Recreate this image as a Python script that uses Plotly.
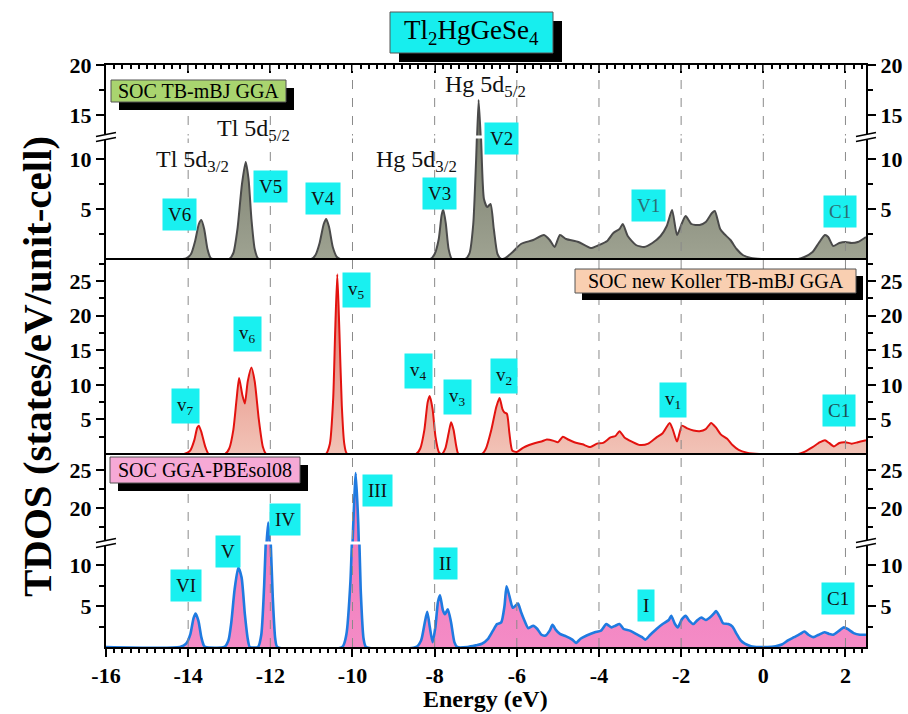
import plotly.graph_objects as go

# ---------------- data ----------------
# Panel 1: SOC TB-mBJ GGA
E_TB = [-16.0, -14.15, -14.05, -13.93, -13.83, -13.74, -13.68, -13.61, -13.53, -13.46, -13.4,
        -13.0, -12.9, -12.8, -12.69, -12.6, -12.53, -12.46, -12.38, -12.3, -12.25,
        -11.0, -10.9, -10.8, -10.7, -10.64, -10.57, -10.48, -10.38, -10.3,
        -8.1, -8.0, -7.9, -7.83, -7.79, -7.73, -7.66, -7.58,
        -7.25, -7.15, -7.06, -6.99, -6.93, -6.87, -6.8, -6.72, -6.64, -6.56, -6.47, -6.38,
        -6.3, -6.1, -5.9, -5.6, -5.34, -5.2, -5.08, -4.95, -4.8, -4.5, -4.2, -4.0, -3.8,
        -3.65, -3.5, -3.42, -3.3, -3.1, -2.9, -2.7, -2.5, -2.35, -2.22, -2.1, -1.98, -1.89,
        -1.75, -1.55, -1.4, -1.25, -1.18, -1.05, -0.95, -0.8, -0.65, -0.5, -0.3, -0.05,
        0.85, 1.0, 1.2, 1.35, 1.5, 1.58, 1.7, 1.85, 2.0, 2.15, 2.3, 2.5]
D_TB = [0, 0, 0.05, 0.5, 1.8, 3.5, 3.9, 3.0, 1.0, 0.15, 0,
        0, 0.6, 3.0, 7.5, 9.7, 8.0, 4.0, 1.0, 0.05, 0,
        0, 0.4, 1.6, 3.5, 4.0, 3.2, 1.2, 0.2, 0,
        0, 0.5, 2.0, 4.4, 4.95, 3.6, 1.0, 0,
        0, 0.6, 3.5, 10.0, 16.5, 12.0, 6.0, 5.2, 5.5, 3.0, 0.5, 0,
        0.05, 0.7, 1.5, 1.9, 2.4, 1.9, 1.2, 2.4, 2.0, 1.7, 1.1, 1.4, 1.8,
        2.6, 3.0, 3.5, 2.3, 1.4, 1.2, 1.6, 2.3, 3.3, 4.9, 2.4, 3.6, 4.3,
        3.5, 3.4, 3.7, 4.6, 4.8, 3.0, 2.5, 1.9, 1.0, 0.4, 0.1, 0,
        0, 0.2, 0.7, 1.6, 2.4, 2.2, 1.3, 1.6, 1.7, 1.6, 1.7, 2.2]

# Panel 2: SOC new Koller TB-mBJ GGA
E_NK = [-16.0, -14.1, -13.95, -13.85, -13.78, -13.74, -13.68, -13.58, -13.5,
        -13.1, -13.0, -12.9, -12.82, -12.76, -12.68, -12.62, -12.55, -12.46, -12.38, -12.28, -12.18, -12.1,
        -10.65, -10.55, -10.47, -10.42, -10.37, -10.32, -10.26, -10.2, -10.13,
        -8.45, -8.35, -8.25, -8.17, -8.12, -8.05, -7.98, -7.9, -7.85,
        -7.82, -7.74, -7.66, -7.6, -7.54, -7.47, -7.42,
        -6.85, -6.75, -6.62, -6.5, -6.42, -6.35, -6.3, -6.24, -6.18, -6.11,
        -6.0, -5.85, -5.7, -5.55, -5.4, -5.27, -5.1, -5.0, -4.88, -4.75, -4.6, -4.4, -4.21,
        -4.05, -3.9, -3.72, -3.6, -3.5, -3.38, -3.2, -3.0, -2.8, -2.6, -2.45, -2.28, -2.2,
        -2.1, -1.98, -1.85, -1.7, -1.55, -1.4, -1.27, -1.15, -1.03, -0.88, -0.75, -0.6, -0.4, -0.1,
        0.85, 1.0, 1.2, 1.38, 1.5, 1.6, 1.72, 1.85, 2.0, 2.15, 2.3, 2.5]
D_NK = [0, 0, 0.5, 2.0, 3.8, 4.1, 3.2, 1.0, 0,
        0, 0.8, 3.5, 8.0, 11.0, 8.5, 7.3, 10.5, 12.5, 10.5, 5.0, 1.0, 0,
        0, 1.5, 8.0, 18.0, 26.0, 18.0, 7.0, 1.5, 0,
        0, 0.8, 3.5, 7.5, 8.4, 6.5, 2.5, 0.3, 0,
        0, 0.8, 3.0, 4.6, 3.5, 1.0, 0,
        0, 0.8, 3.5, 6.8, 8.1, 6.5, 6.0, 5.8, 3.0, 0.5,
        0.3, 0.9, 1.3, 1.6, 1.8, 2.1, 1.9, 1.7, 2.5, 2.1, 1.7, 1.4, 1.0,
        1.5, 1.6, 2.4, 2.6, 3.3, 2.4, 1.8, 1.3, 1.5, 2.4, 3.0, 4.5, 3.5,
        1.8, 4.1, 3.7, 3.4, 3.3, 3.6, 4.5, 3.8, 2.8, 2.2, 1.3, 0.6, 0.2, 0,
        0, 0.3, 1.0, 1.7, 2.0, 1.6, 1.1, 1.6, 1.7, 1.5, 1.7, 2.0]

# Panel 3: SOC GGA-PBEsol08
E_PB = [-16.0, -14.2, -14.05, -13.95, -13.87, -13.82, -13.75, -13.68, -13.62, -13.58,
        -13.12, -13.02, -12.95, -12.87, -12.78, -12.7, -12.62, -12.55, -12.5,
        -12.3, -12.22, -12.15, -12.09, -12.05, -12.0, -11.94, -11.88, -11.83,
        -10.25, -10.15, -10.05, -9.98, -9.92, -9.86, -9.8, -9.73, -9.67,
        -8.45, -8.33, -8.24, -8.18, -8.12, -8.05, -7.98, -7.92, -7.87, -7.8, -7.75, -7.68, -7.6, -7.52, -7.45,
        -7.2, -7.0, -6.85, -6.7, -6.58, -6.48, -6.38, -6.3, -6.25, -6.18, -6.1, -6.04, -5.97, -5.9,
        -5.82, -5.72, -5.6, -5.5, -5.4, -5.3, -5.2, -5.13, -5.05, -4.95, -4.8, -4.65, -4.56, -4.45,
        -4.3, -4.1, -3.95, -3.82, -3.7, -3.6, -3.5, -3.4, -3.25, -3.1, -2.95, -2.87, -2.75, -2.6,
        -2.45, -2.3, -2.24, -2.15, -2.08, -1.98, -1.89, -1.8, -1.7, -1.6, -1.51, -1.4, -1.3, -1.2,
        -1.15, -1.05, -0.98, -0.85, -0.75, -0.65, -0.55, -0.45, -0.3, -0.1, 0.1, 0.3, 0.45, 0.6,
        0.75, 0.9, 1.0, 1.1, 1.22, 1.35, 1.49, 1.6, 1.7, 1.85, 1.96, 2.05, 2.2, 2.35, 2.5]
D_PB = [0, 0, 0.4, 1.5, 3.5, 4.1, 3.2, 1.2, 0.2, 0,
        0, 0.8, 3.0, 7.0, 9.7, 8.5, 4.0, 1.0, 0,
        0, 1.5, 7.5, 15.5, 18.1, 14.0, 6.0, 1.0, 0,
        0, 1.5, 8.0, 18.0, 24.6, 18.0, 7.0, 1.0, 0,
        0, 0.8, 3.0, 4.3, 2.5, 0.6, 2.5, 5.5, 6.3, 4.5, 4.0, 4.6, 3.0, 0.6, 0,
        0, 0.2, 0.4, 1.0, 2.0, 2.8, 3.0, 5.0, 7.4, 6.2, 4.8, 5.0, 5.3, 4.3,
        3.3, 2.3, 2.6, 2.2, 1.5, 1.4, 2.0, 2.7, 2.1, 1.6, 1.3, 0.9, 0.5, 1.0,
        1.4, 1.8, 2.0, 2.8, 2.4, 2.6, 2.8, 2.2, 2.0, 1.6, 1.2, 0.9, 1.5, 2.2,
        2.8, 3.3, 3.8, 2.8, 2.4, 3.4, 3.8, 3.2, 2.8, 3.3, 3.6, 3.3, 3.6, 4.1,
        4.4, 3.6, 2.9, 2.8, 2.5, 1.6, 0.8, 0.4, 0.1, 0.0, 0, 0.1, 0.3, 0.8,
        1.2, 1.6, 1.9, 1.5, 1.2, 1.5, 1.8, 1.6, 1.5, 2.0, 2.4, 2.2, 1.7, 1.5, 1.5]

X_TICKS = [-16, -14, -12, -10, -8, -6, -4, -2, 0, 2]
X_TICK_TEXT = ["-16", "-14", "-12", "-10", "-8", "-6", "-4", "-2", "0", "2"]
GRID_X = [-14, -12, -10, -8, -6, -4, -2, 0, 2]

# ---------------- layout helpers ----------------
FIG_W, FIG_H = 908, 714
ML, MR, MT, MB = 106, 42, 65, 67
PW, PH = FIG_W - ML - MR, FIG_H - MT - MB


def px(x):
    return (x - ML) / PW


def py(y):
    return (MT + PH - y) / PH


SERIF = "Liberation Serif"
BREAK_TOP, BREAK_BOT = 137, 543
D_BL = [0, py(BREAK_BOT)]
D_BU = [py(BREAK_BOT), py(454)]
D_M = [py(454), py(259)]
D_TL = [py(259), py(BREAK_TOP)]
D_TU = [py(BREAK_TOP), 1]

fig = go.Figure()

tb_grad = dict(type="vertical", colorscale=[[0, "#9fa392"], [1, "#6f7363"]])
nk_grad = dict(type="vertical", colorscale=[[0, "#f2c4b8"], [1, "#e07468"]])
pb_grad = dict(type="vertical", colorscale=[[0, "#f48cc6"], [1, "#ee6fb4"]])

TB_LINE = dict(color="#4a4a4a", width=2, shape="spline", smoothing=0.6)
NK_LINE = dict(color="#e3120f", width=2, shape="spline", smoothing=0.6)
PB_LINE = dict(color="#1f7ae0", width=2.6, shape="spline", smoothing=0.6)

for ya in ["y4", "y5"]:
    fig.add_trace(go.Scatter(x=E_TB, y=D_TB, yaxis=ya, mode="lines", line=TB_LINE,
                             fill="tozeroy", fillgradient=tb_grad, showlegend=False,
                             hoverinfo="skip"))
fig.add_trace(go.Scatter(x=E_NK, y=D_NK, yaxis="y3", mode="lines", line=NK_LINE,
                         fill="tozeroy", fillgradient=nk_grad, showlegend=False, hoverinfo="skip"))
for ya in ["y", "y2"]:
    fig.add_trace(go.Scatter(x=E_PB, y=D_PB, yaxis=ya, mode="lines", line=PB_LINE,
                             fill="tozeroy", fillgradient=pb_grad, showlegend=False,
                             hoverinfo="skip"))

# invisible copies so that the mirrored (right / top) axes get drawn
for xa, ya, ex, dy in [("x", "y6", E_PB, D_PB), ("x", "y7", E_PB, D_PB), ("x", "y8", E_NK, D_NK),
                       ("x", "y9", E_TB, D_TB), ("x", "y10", E_TB, D_TB), ("x2", "y5", E_TB, D_TB)]:
    fig.add_trace(go.Scatter(x=ex, y=dy, xaxis=xa, yaxis=ya, mode="lines", opacity=0,
                             line=dict(width=1), showlegend=False, hoverinfo="skip"))

tickfont = dict(family=SERIF, size=22, color="black", weight="bold")


def yax(domain, rng, major, minor, side="left", overlay=None):
    d = dict(range=rng, tickmode="array", tickvals=major, ticks="outside",
             ticklen=8, tickwidth=2, tickcolor="black", showline=True, linewidth=2,
             linecolor="black", showgrid=False, zeroline=False, tickfont=tickfont,
             minor=dict(tickmode="array", tickvals=minor, ticks="outside", ticklen=5,
                        tickwidth=2, tickcolor="black", showgrid=False),
             anchor="x", side=side, fixedrange=True, automargin=False)
    if overlay:
        d["overlaying"] = overlay
    else:
        d["domain"] = domain
    return d


specs = {
    "yaxis": (D_BL, [0, 12.7], [5, 10], [2.5, 7.5]),
    "yaxis2": (D_BU, [15.4, 27.1], [20, 25], [17.5, 22.5]),
    "yaxis3": (D_M, [0, 28.2], [5, 10, 15, 20, 25], [2.5, 7.5, 12.5, 17.5, 22.5, 27.5]),
    "yaxis4": (D_TL, [0, 12.2], [5, 10], [2.5, 7.5]),
    "yaxis5": (D_TU, [12.8, 20], [15, 20], [17.5]),
}
lay = {}
names = ["yaxis", "yaxis2", "yaxis3", "yaxis4", "yaxis5"]
for i, n in enumerate(names):
    dom, rng, mj, mn = specs[n]
    lay[n] = yax(dom, rng, mj, mn)
    ov = "y" if i == 0 else "y%d" % (i + 1)
    lay["yaxis%d" % (i + 6)] = yax(dom, rng, mj, mn, side="right", overlay=ov)

lay["xaxis"] = dict(range=[-16, 2.5], domain=[0, 1], anchor="y", tickmode="array",
                    tickvals=X_TICKS, ticktext=X_TICK_TEXT, ticks="outside", ticklen=8,
                    tickwidth=2, tickcolor="black", showline=True, linewidth=2,
                    linecolor="black", showgrid=False, zeroline=False, tickfont=tickfont,
                    minor=dict(dtick=0.2, tick0=0, ticks="outside", ticklen=4, tickwidth=1.5,
                               tickcolor="black", showgrid=False), fixedrange=True,
                    automargin=False)
lay["xaxis2"] = dict(range=[-16, 2.5], overlaying="x", anchor="y5", side="top",
                     tickmode="array", tickvals=X_TICKS, ticks="inside", ticklen=8,
                     tickwidth=2, tickcolor="black", showticklabels=False, showline=True,
                     linewidth=2, linecolor="black", showgrid=False, zeroline=False,
                     minor=dict(dtick=0.2, tick0=0, ticks="inside", ticklen=4, tickwidth=1.5,
                                tickcolor="black", showgrid=False), fixedrange=True,
                     automargin=False)

shapes = []
for gx in GRID_X:
    shapes.append(dict(type="line", xref="x", yref="paper", x0=gx, x1=gx, y0=0, y1=1,
                       line=dict(color="#8a8a8a", width=1, dash="dash"), layer="above"))
# panel separators
for yy in [454, 259]:
    shapes.append(dict(type="line", xref="paper", yref="paper", x0=0, x1=1, y0=py(yy), y1=py(yy),
                       line=dict(color="black", width=2), layer="above"))
# axis breaks
for yb in [BREAK_TOP, BREAK_BOT]:
    shapes.append(dict(type="rect", xref="paper", yref="paper", x0=px(ML + 1.5), x1=px(ML + PW - 1.5),
                       y0=py(yb + 1.5), y1=py(yb - 1.5), line=dict(width=0), fillcolor="white",
                       layer="above"))
    for ax in [ML, ML + PW]:
        shapes.append(dict(type="rect", xref="paper", yref="paper", x0=px(ax - 2), x1=px(ax + 2),
                           y0=py(yb + 3), y1=py(yb - 3), line=dict(width=0), fillcolor="white",
                           layer="above"))
        for off in [-2.5, 2.5]:
            shapes.append(dict(type="line", xref="paper", yref="paper",
                               x0=px(ax - 10), y0=py(yb + off + 2), x1=px(ax + 10), y1=py(yb + off - 2),
                               line=dict(color="black", width=1.5), layer="above"))

annotations = []


def boxed(text, x0, y0, x1, y1, fill, size, shadow=8, tcolor="black"):
    shapes.append(dict(type="rect", xref="paper", yref="paper", x0=px(x0 + shadow), x1=px(x1 + shadow),
                       y0=py(y1 + shadow), y1=py(y0 + shadow), fillcolor="black",
                       line=dict(width=0), layer="above"))
    shapes.append(dict(type="rect", xref="paper", yref="paper", x0=px(x0), x1=px(x1),
                       y0=py(y1), y1=py(y0), fillcolor=fill,
                       line=dict(color="#555555", width=1), layer="above"))
    annotations.append(dict(text=text, xref="paper", yref="paper", x=px((x0 + x1) / 2),
                            y=py((y0 + y1) / 2), xanchor="center", yanchor="middle",
                            showarrow=False, font=dict(family=SERIF, size=size, color=tcolor)))


boxed("Tl<sub>2</sub>HgGeSe<sub>4</sub>", 390, 12, 553, 53, "#17eeee", 27, shadow=9)
boxed("SOC TB-mBJ GGA", 111, 80, 286, 102, "#a9d46f", 20)
boxed("SOC new Koller TB-mBJ GGA", 575, 269, 856, 293, "#f9cfb1", 20, shadow=7)
boxed("SOC GGA-PBEsol08", 110, 457, 300, 483, "#f6a9d6", 20, shadow=8)


def txt(text, x, y, size=24):
    annotations.append(dict(text=text, xref="paper", yref="paper", x=px(x), y=py(y),
                            xanchor="center", yanchor="middle", showarrow=False,
                            font=dict(family=SERIF, size=size, color="#111111")))


txt("Tl 5d<sub>3/2</sub>", 192, 161)
txt("Tl 5d<sub>5/2</sub>", 253, 130)
txt("Hg 5d<sub>3/2</sub>", 416, 161)
txt("Hg 5d<sub>5/2</sub>", 485, 86)


def tag(text, x, y, color="#111111"):
    annotations.append(dict(text=text, xref="paper", yref="paper", x=px(x), y=py(y),
                            xanchor="center", yanchor="middle", showarrow=False,
                            bgcolor="#19f0f0", borderpad=5,
                            font=dict(family=SERIF, size=19, color=color)))


for t, x, y in [("V6", 179, 215), ("V5", 270, 186), ("V4", 323, 199), ("V3", 439, 193),
                ("V2", 501, 138)]:
    tag(t, x, y)
tag("V1", 648, 205, "#2b6f73")
tag("C1", 840, 211, "#2b6f73")
for t, x, y in [("v<sub>7</sub>", 185, 406), ("v<sub>6</sub>", 247, 334), ("v<sub>5</sub>", 356, 290),
                ("v<sub>4</sub>", 418, 371), ("v<sub>3</sub>", 457, 397), ("v<sub>2</sub>", 504, 376),
                ("v<sub>1</sub>", 673, 400)]:
    tag(t, x, y)
tag("C1", 839, 410, "#1d4f52")
for t, x, y in [("VI", 186, 585), ("V", 228, 551), ("IV", 285, 519), ("III", 377, 490),
                ("II", 445, 563), ("I", 646, 605), ("C1", 838, 598)]:
    tag(t, x, y)

annotations.append(dict(text="<b>TDOS (states/eV/unit-cell)</b>", xref="paper", yref="paper",
                        x=px(37), y=py(367), textangle=-90, showarrow=False,
                        xanchor="center", yanchor="middle",
                        font=dict(family=SERIF, size=41, color="black")))
annotations.append(dict(text="<b>Energy (eV)</b>", xref="paper", yref="paper",
                        x=px(485), y=py(699), showarrow=False, xanchor="center", yanchor="middle",
                        font=dict(family=SERIF, size=24, color="black")))

fig.update_layout(width=FIG_W, height=FIG_H, margin=dict(l=ML, r=MR, t=MT, b=MB, autoexpand=False),
                  paper_bgcolor="white", plot_bgcolor="white", showlegend=False,
                  shapes=shapes, annotations=annotations, **lay)

fig.write_html("out.html", config={"displayModeBar": False})
